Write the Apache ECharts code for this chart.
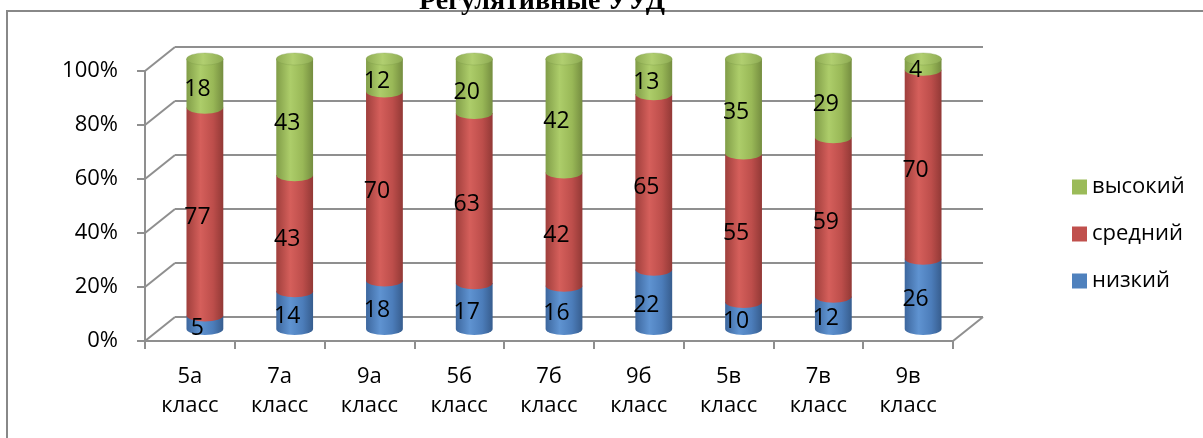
<!DOCTYPE html>
<html>
<head>
<meta charset="utf-8">
<script src="https://cdn.jsdelivr.net/npm/echarts@6/dist/echarts.min.js"></script>
<style>
  html, body { margin: 0; padding: 0; background: #fff; }
  #chart { width: 1203px; height: 438px; }
</style>
</head>
<body>
<div id="chart"></div>
<script>
// Classes and the share (in %) of pupils at each level
const categories = ['5а', '7а', '9а', '5б', '7б', '9б', '5в', '7в', '9в'];
const low  = [5, 14, 18, 17, 16, 22, 10, 12, 26];   // низкий
const mid  = [77, 43, 70, 63, 42, 65, 55, 59, 70];  // средний
const high = [18, 43, 12, 20, 42, 13, 35, 29, 4];   // высокий
const yTicks = [0, 20, 40, 60, 80, 100];

const FONT = "'Open Sans', sans-serif";
const LINE = '#8f8f8f';

// Pseudo-3D box: front plane, middle plane (cylinders), back wall
const FRONT = { left: 145, top: 71, width: 808, height: 270 };
const DEPTH = [30, -24];
const BAR_RATIO = 0.41;
const ELL = 0.33;

function plane(f) {
  return {
    left: FRONT.left + DEPTH[0] * f,
    top: FRONT.top + DEPTH[1] * f,
    width: FRONT.width,
    height: FRONT.height
  };
}

const levels = [
  { name: 'низкий', values: low, color: '#4F81BD',
    side: ['#3d679e', '#5f93d1', '#4c7dba', '#375d8e'] },
  { name: 'средний', values: mid, color: '#C0504D',
    side: ['#9f3f3c', '#d55f5b', '#bd4e4b', '#923936'] },
  { name: 'высокий', values: high, color: '#9BBB59',
    side: ['#819d48', '#adcd6a', '#99b857', '#758d40'] }
];

function sideGradient(c) {
  return {
    type: 'linear', x: 0, y: 0, x2: 1, y2: 0,
    colorStops: [
      { offset: 0, color: c[0] },
      { offset: 0.38, color: c[1] },
      { offset: 0.72, color: c[2] },
      { offset: 1, color: c[3] }
    ]
  };
}

function barSeries(level, k) {
  const data = categories.map((_, i) => {
    let base = 0;
    for (let j = 0; j < k; j++) base += levels[j].values[i];
    return [i, base, level.values[i]];
  });
  const isTop = k === levels.length - 1;
  return {
    name: level.name,
    type: 'custom',
    xAxisIndex: 1,
    yAxisIndex: 1,
    z: 3,
    itemStyle: { color: level.color },
    encode: { x: 0, y: 1 },
    data: data,
    renderItem: function (params, api) {
      const i = api.value(0), b = api.value(1), v = api.value(2);
      const pb = api.coord([i, b]);
      const pt = api.coord([i, b + v]);
      const rx = api.size([1, 0])[0] * BAR_RATIO / 2;
      const ry = rx * ELL;
      const x0 = pb[0] - rx, x1 = pb[0] + rx;
      const yB = pb[1], yT = pt[1];
      const children = [{
        type: 'path',
        z2: k + 1,
        shape: {
          pathData: `M${x0} ${yT} L${x0} ${yB} A${rx} ${ry} 0 0 0 ${x1} ${yB} L${x1} ${yT} Z`
        },
        style: { fill: sideGradient(level.side) }
      }];
      if (isTop) {
        children.push({
          type: 'path',
          z2: k + 2,
          shape: {
            pathData: `M${x0} ${yT} A${rx} ${ry} 0 1 0 ${x1} ${yT} A${rx} ${ry} 0 1 0 ${x0} ${yT} Z`
          },
          style: {
            fill: {
              type: 'linear', x: 0, y: 0, x2: 1, y2: 0,
              colorStops: [
                { offset: 0, color: '#8eab53' },
                { offset: 0.45, color: '#b1cf70' },
                { offset: 1, color: '#8eab53' }
              ]
            },
            stroke: 'rgba(120,150,70,0.5)',
            lineWidth: 0.6
          }
        });
      }
      children.push({
        type: 'text',
        z2: 100,
        x: pb[0] - DEPTH[0] / 4,
        y: (yB + yT) / 2 - DEPTH[1] / 4,
        style: {
          text: String(v),
          font: `23px ${FONT}`,
          fill: '#000',
          align: 'center',
          verticalAlign: 'middle'
        }
      });
      return { type: 'group', children: children };
    }
  };
}

// Left wall and right floor edge joining the front axis to the back wall
const wallSeries = {
  type: 'custom',
  xAxisIndex: 0,
  yAxisIndex: 0,
  silent: true,
  z: 1,
  data: yTicks.map(v => [0, v]),
  renderItem: function (params, api) {
    const v = api.value(1);
    const p = api.coord([0, v]);
    const bw = api.size([1, 0])[0];
    const xL = p[0] - bw / 2;
    const lines = [{
      type: 'line',
      shape: { x1: xL, y1: p[1], x2: xL + DEPTH[0], y2: p[1] + DEPTH[1] },
      style: { stroke: LINE, lineWidth: 2 }
    }];
    if (v === 0) {
      const q = api.coord([categories.length - 1, 0]);
      const xR = q[0] + bw / 2;
      lines.push({
        type: 'line',
        shape: { x1: xR, y1: q[1], x2: xR + DEPTH[0], y2: q[1] + DEPTH[1] },
        style: { stroke: LINE, lineWidth: 2 }
      });
    }
    return { type: 'group', children: lines };
  }
};

const hiddenCat = { type: 'category', data: categories, show: false };
const hiddenVal = { type: 'value', min: 0, max: 100, interval: 20, show: false };

const chart = echarts.init(document.getElementById('chart'), null, { renderer: 'canvas' });
chart.setOption({
  animation: false,
  backgroundColor: '#fff',
  textStyle: { fontFamily: FONT },
  graphic: [
    {
      type: 'rect',
      shape: { x: 7, y: 11, width: 1220, height: 450 },
      style: { fill: 'none', stroke: '#888', lineWidth: 2 },
      silent: true
    },
    {
      type: 'text',
      x: 542, y: 2,
      style: {
        text: 'Регулятивные УУД',
        font: 'bold 28px "Liberation Serif", serif',
        fill: '#000',
        align: 'center',
        verticalAlign: 'middle'
      }
    }
  ],
  legend: {
    orient: 'vertical',
    left: 1067,
    top: 171,
    itemWidth: 15,
    itemHeight: 15,
    itemGap: 25,
    icon: 'rect',
    data: ['высокий', 'средний', 'низкий'],
    textStyle: { fontSize: 22, color: '#000', fontFamily: FONT }
  },
  grid: [
    Object.assign({ containLabel: false }, plane(0)),
    Object.assign({ containLabel: false }, plane(0.5)),
    Object.assign({ containLabel: false }, plane(1))
  ],
  xAxis: [
    {
      type: 'category',
      gridIndex: 0,
      data: categories,
      axisLine: { lineStyle: { color: LINE, width: 2 } },
      axisTick: { show: true, length: 8, lineStyle: { color: LINE, width: 2 } },
      axisLabel: {
        formatter: v => v + '\nкласс',
        fontSize: 22,
        lineHeight: 29,
        color: '#000',
        margin: 21,
        fontFamily: FONT
      }
    },
    Object.assign({ gridIndex: 1 }, hiddenCat),
    Object.assign({ gridIndex: 2 }, hiddenCat)
  ],
  yAxis: [
    {
      type: 'value',
      gridIndex: 0,
      min: 0, max: 100, interval: 20,
      axisLine: { show: true, lineStyle: { color: LINE, width: 2 } },
      axisTick: { show: true, length: 8, lineStyle: { color: LINE, width: 2 } },
      splitLine: { show: false },
      axisLabel: {
        formatter: '{value}%',
        fontSize: 22,
        color: '#000',
        margin: 27,
        fontFamily: FONT
      }
    },
    Object.assign({ gridIndex: 1 }, hiddenVal),
    {
      type: 'value',
      gridIndex: 2,
      min: 0, max: 100, interval: 20,
      axisLine: { show: false },
      axisTick: { show: false },
      axisLabel: { show: false },
      splitLine: { show: true, lineStyle: { color: LINE, width: 2 } }
    }
  ],
  series: [wallSeries].concat(levels.map(barSeries))
});
</script>
</body>
</html>
